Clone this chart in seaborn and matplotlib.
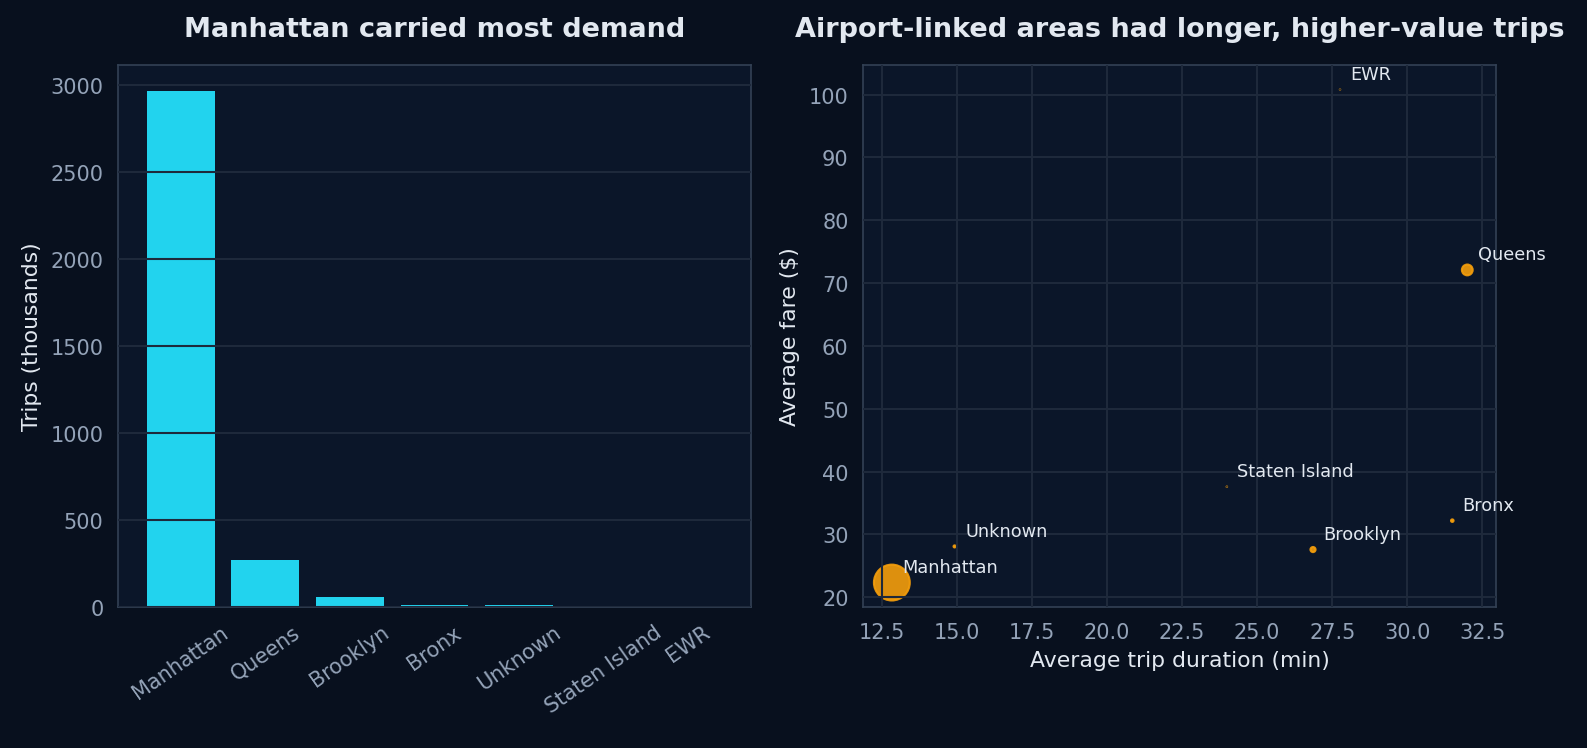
"""Borough demand: trip counts and duration vs fare."""

import matplotlib
matplotlib.use("Agg")

import matplotlib.pyplot as plt
import numpy as np
import pandas as pd
import seaborn as sns

# trips by borough (thousands)
boroughs = ["Manhattan", "Queens", "Brooklyn", "Bronx", "Unknown", "Staten Island", "EWR"]
trips_k = [2966, 269, 60, 15, 10, 0.5, 0.3]

# averages per borough (same order)
avg_duration = [12.83, 32.0, 26.86, 31.5, 14.92, 23.99, 27.76]
avg_fare = [22.35, 72.1, 27.6, 32.2, 28.1, 37.6, 100.8]

FIG_BG = "#08101e"
AX_BG = "#0b1629"
GRID = "#1e293b"
SPINE = "#334155"
TICK = "#94a3b8"
TEXT = "#e2e8f0"
CYAN = "#22d3ee"
AMBER = "#f59e0b"


def style_axes(ax):
    ax.set_facecolor(AX_BG)
    for sp in ax.spines.values():
        sp.set_color(SPINE)
        sp.set_linewidth(0.8)
    ax.tick_params(colors=TICK, labelsize=10, length=3.5, width=0.8)
    ax.tick_params(axis="both", color="#64748b")
    ax.xaxis.label.set_color(TEXT)
    ax.yaxis.label.set_color(TEXT)
    ax.title.set_color(TEXT)


def main():
    sns.set_theme(style="dark")
    plt.rcParams["font.family"] = ["DejaVu Sans"]
    plt.rcParams["axes.axisbelow"] = False

    df = pd.DataFrame({
        "borough": boroughs,
        "trips": trips_k,
        "duration": avg_duration,
        "fare": avg_fare,
    })

    fig, (ax1, ax2) = plt.subplots(1, 2, figsize=(10.58, 4.993), dpi=150)
    fig.patch.set_facecolor(FIG_BG)
    fig.subplots_adjust(left=0.0744, right=0.9427, top=0.912, bottom=0.188, wspace=0.177)

    # left: trips per borough
    sns.barplot(data=df, x="borough", y="trips", color=CYAN, saturation=1, width=0.8,
                edgecolor="none", linewidth=0, ax=ax1)
    style_axes(ax1)
    # same 5% side margins as a plain matplotlib bar chart
    n = len(boroughs)
    pad = (n - 1 + 0.8) * 0.05
    ax1.set_xlim(-0.4 - pad, n - 1 + 0.4 + pad)
    ax1.set_title("Manhattan carried most demand", fontsize=13, fontweight="bold", pad=14, color=TEXT)
    ax1.set_xlabel("")
    ax1.set_ylabel("Trips (thousands)", fontsize=10.5, color=TEXT)
    ax1.grid(axis="y", color=GRID, linewidth=1)
    ax1.grid(axis="x", visible=False)
    plt.setp(ax1.get_xticklabels(), rotation=35)

    # right: duration vs fare, marker area ~ trips
    sns.scatterplot(data=df, x="duration", y="fare", s=np.array(trips_k) / 10,
                    color=AMBER, alpha=0.9, edgecolor=AMBER, linewidth=1,
                    legend=False, ax=ax2)
    style_axes(ax2)
    ax2.set_title("Airport-linked areas had longer, higher-value trips", fontsize=13,
                  fontweight="bold", pad=14, color=TEXT)
    ax2.set_xlabel("Average trip duration (min)", fontsize=10.5, color=TEXT)
    ax2.set_ylabel("Average fare ($)", fontsize=10.5, color=TEXT)
    ax2.grid(True, color=GRID, linewidth=1)
    for name, x, y in zip(df["borough"], df["duration"], df["fare"]):
        ax2.annotate(name, (x, y), xytext=(5, 5), textcoords="offset points",
                     fontsize=8.5, color=TEXT)

    fig.savefig("out.png", facecolor=FIG_BG)
    plt.close(fig)


if __name__ == "__main__":
    main()
